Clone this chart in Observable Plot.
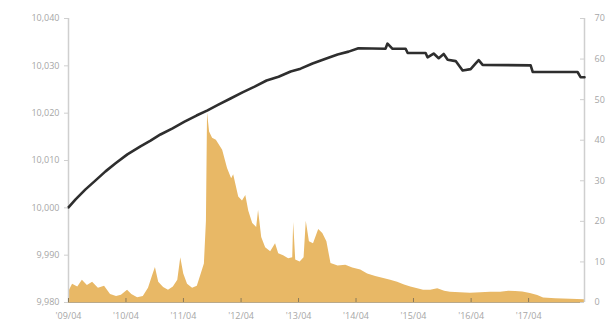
<!DOCTYPE html>
<html>
<head>
<meta charset="utf-8">
<script src="https://cdn.jsdelivr.net/npm/d3@7"></script>
<script src="https://cdn.jsdelivr.net/npm/@observablehq/plot@0.6"></script>
<style>
  html, body { margin: 0; padding: 0; background: #fff; }
  #chart { width: 615px; height: 336px; }
</style>
</head>
<body>
<div id="chart"></div>
<script>
// Left axis series (line)
const lineDates = ["2009-04-01","2009-05-16","2009-07-18","2009-09-20","2009-11-22","2010-01-25","2010-04-10","2010-07-02","2010-09-04","2010-11-06","2011-01-22","2011-04-08","2011-06-23","2011-09-01","2011-11-09","2012-01-25","2012-04-10","2012-06-26","2012-09-10","2012-11-25","2013-02-10","2013-04-14","2013-06-29","2013-09-20","2013-12-05","2014-02-13","2014-04-16","2014-10-05","2014-10-18","2014-11-19","2015-02-10","2015-02-23","2015-06-17","2015-06-29","2015-08-07","2015-09-08","2015-10-10","2015-11-04","2015-12-25","2016-02-07","2016-03-29","2016-04-30","2016-05-19","2016-06-13","2017-04-14","2017-04-27","2018-02-06","2018-02-25","2018-03-22"];
const lineValues = [10000.1,10001.8,10003.9,10005.8,10007.7,10009.4,10011.3,10013.0,10014.2,10015.5,10016.8,10018.2,10019.5,10020.6,10021.8,10023.1,10024.4,10025.6,10026.9,10027.7,10028.8,10029.4,10030.5,10031.5,10032.4,10033.0,10033.7,10033.6,10034.7,10033.6,10033.6,10032.7,10032.7,10031.8,10032.6,10031.6,10032.5,10031.3,10031.0,10029.0,10029.3,10030.5,10031.2,10030.2,10030.1,10028.7,10028.7,10027.6,10027.6];

// Right axis series (area)
const areaDates = ["2009-04-01","2009-04-27","2009-05-30","2009-06-28","2009-07-30","2009-09-01","2009-10-08","2009-11-16","2009-12-24","2010-01-31","2010-03-03","2010-04-11","2010-05-08","2010-06-14","2010-07-20","2010-08-22","2010-09-16","2010-10-05","2010-10-26","2010-11-26","2010-12-27","2011-01-27","2011-02-24","2011-03-15","2011-04-03","2011-04-27","2011-05-29","2011-06-28","2011-07-23","2011-08-12","2011-08-25","2011-09-01","2011-09-14","2011-10-03","2011-10-27","2011-12-06","2012-01-06","2012-02-01","2012-02-14","2012-03-17","2012-04-10","2012-05-01","2012-05-20","2012-06-14","2012-07-09","2012-07-21","2012-08-10","2012-09-04","2012-10-06","2012-11-06","2012-11-26","2012-12-27","2013-01-28","2013-02-23","2013-03-01","2013-03-14","2013-04-11","2013-05-06","2013-05-20","2013-06-09","2013-07-05","2013-08-07","2013-09-02","2013-09-28","2013-10-24","2013-12-08","2014-01-26","2014-03-11","2014-05-01","2014-06-14","2014-08-04","2014-09-24","2014-11-07","2014-12-21","2015-02-03","2015-03-15","2015-04-28","2015-06-04","2015-07-19","2015-09-02","2015-10-16","2015-11-22","2016-01-24","2016-03-28","2016-06-01","2016-08-03","2016-10-05","2016-11-26","2017-01-08","2017-02-23","2017-04-12","2017-05-29","2017-07-05","2017-09-20","2017-12-24","2018-03-22"];
const areaValues = [2.5,4.5,3.8,5.5,4.2,5.0,3.5,4.0,2.0,1.5,1.8,3.0,2.0,1.2,1.5,3.5,6.5,8.6,5.0,3.7,3.0,3.8,5.5,11.0,7.0,4.5,3.5,4.0,7.0,9.5,20,46.8,42,40.5,40,37.5,33,30.5,31.5,26,25,26.4,22.5,19.5,18.5,22.7,16,13.5,12.5,14.5,12,11.5,10.8,11,19.7,10.5,10,11,20,15,14.5,18,17,15,9.6,9,9.2,8.5,8,7,6.4,5.9,5.5,5,4.3,3.8,3.4,3.0,3.0,3.4,2.8,2.5,2.4,2.3,2.4,2.5,2.5,2.8,2.7,2.6,2.2,1.7,1.1,0.9,0.8,0.7];

const leftTicks = [9980, 9990, 10000, 10010, 10020, 10030, 10040];
const rightTicks = [0, 10, 20, 30, 40, 50, 60, 70];
const xTickDates = ["2009-04-01","2010-04-01","2011-04-01","2012-04-01","2013-04-01","2014-04-01","2015-04-01","2016-04-01","2017-04-01"];
const xDomain = ["2009-04-01", "2018-03-22"];

const parse = d3.utcParse("%Y-%m-%d");
const L0 = 9980, L1 = 10040, R0 = 0, R1 = 70;
const toLeft = v => L0 + (v - R0) * (L1 - L0) / (R1 - R0);
const toRight = y => R0 + (y - L0) * (R1 - R0) / (L1 - L0);

const lineData = lineDates.map((d, i) => ({date: parse(d), value: lineValues[i]}));
const areaData = areaDates.map((d, i) => ({date: parse(d), value: toLeft(areaValues[i])}));
const xTicks = xTickDates.map(parse);

const W = 615, H = 336;
const mL = 68, mR = 31, mT = 18, mB = 34;
const innerW = W - mL - mR, innerH = H - mT - mB;
const axisColor = "#cfcfcf";
const textColor = "#a6a6a6";

const chart = Plot.plot({
  width: W,
  height: H,
  marginLeft: mL,
  marginRight: mR,
  marginTop: mT,
  marginBottom: mB,
  style: {fontFamily: "'Open Sans', sans-serif", fontSize: "9px", color: textColor, background: "#fff"},
  x: {type: "utc", domain: xDomain.map(parse), label: null},
  y: {domain: [L0, L1], label: null},
  marks: [
    Plot.areaY(areaData, {x: "date", y1: L0, y2: "value", fill: "#e8b866"}),
    Plot.ruleX([parse(xDomain[0])], {stroke: axisColor, strokeWidth: 1.5}),
    Plot.ruleX([parse(xDomain[1])], {stroke: axisColor, strokeWidth: 1.5}),
    Plot.ruleY([L0], {stroke: "#b9a98a", strokeWidth: 1.2}),
    Plot.tickX(xTicks, {x: d => d, insetTop: innerH - 4, stroke: "#8a7a5a", strokeWidth: 1}),
    Plot.tickY(rightTicks.map(toLeft), {y: d => d, insetLeft: innerW - 4, stroke: axisColor, strokeWidth: 1}),
    Plot.line(lineData, {x: "date", y: "value", stroke: "#2e2e2e", strokeWidth: 2.6, strokeLinejoin: "round"}),
    Plot.axisY(leftTicks, {anchor: "left", label: null, tickSize: 4, tickPadding: 5, stroke: axisColor, fill: textColor, tickFormat: d3.format(","), fontSize: 9}),
    Plot.axisY(rightTicks.map(toLeft), {anchor: "right", label: null, tickSize: 0, tickPadding: 10, fill: textColor, tickFormat: d => String(Math.round(toRight(d))), fontSize: 9}),
    Plot.axisX(xTicks, {anchor: "bottom", label: null, tickSize: 0, tickPadding: 10, fill: textColor, tickFormat: d => "'" + d3.utcFormat("%y/%m")(d), fontSize: 9})
  ]
});
document.getElementById("chart").appendChild(chart);
</script>
</body>
</html>
